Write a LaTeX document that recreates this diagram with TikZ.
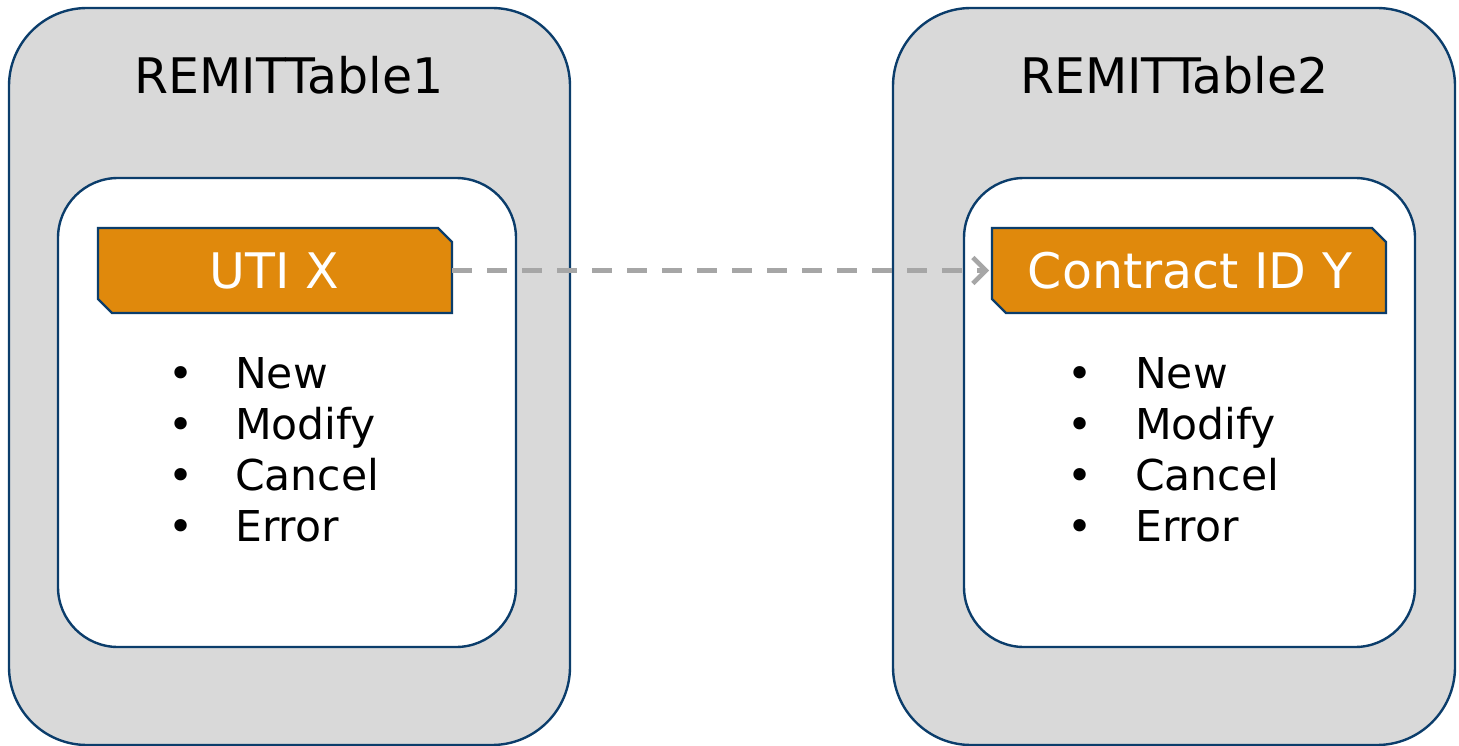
\documentclass[tikz,border=0pt]{standalone}
\usepackage{fontspec}
\setmainfont{DejaVu Sans}
\usetikzlibrary{arrows.meta}
\definecolor{bordblue}{HTML}{0B3D6B}
\definecolor{panelgray}{HTML}{D9D9D9}
\definecolor{orangefill}{HTML}{E0890C}
\definecolor{arrowgray}{HTML}{A6A6A6}
\tikzset{
  outerpanel/.style={draw=bordblue, line width=2.4pt, fill=panelgray, rounded corners=78pt},
  innerpanel/.style={draw=bordblue, line width=2.4pt, fill=white, rounded corners=60pt},
  chamfer/.style={draw=bordblue, line width=2.4pt, fill=orangefill},
  idtext/.style={font=\fontsize{49}{58}\selectfont, text=white, anchor=base},
  titletext/.style={font=\fontsize{49}{58}\selectfont, text=black, anchor=base},
  itemtext/.style={font=\fontsize{42.5}{51}\selectfont, text=black, anchor=base west, inner sep=0pt},
  holder/.style={inner sep=0pt, outer sep=0pt},
  linkarrow/.style={draw=arrowgray, line width=4.5pt, dash pattern=on 20pt off 15pt,
    -{Straight Barb[length=13pt, width=26pt, line width=4.5pt]}}
}
\begin{document}
\begin{tikzpicture}[x=1pt, y=-1pt]
\useasboundingbox (0,0) rectangle (1459,746);
% panels
\node[holder, minimum width=561pt, minimum height=737pt] (p1) at (289.5,376.5) {};
\node[holder, minimum width=562pt, minimum height=737pt] (p2) at (1174,376.5) {};
\draw[outerpanel] (p1.north west) rectangle (p1.south east);
\draw[outerpanel] (p2.north west) rectangle (p2.south east);
\node[holder, minimum width=458pt, minimum height=469pt] (i1) at (287,412.5) {};
\node[holder, minimum width=451pt, minimum height=469pt] (i2) at (1189.5,412.5) {};
\draw[innerpanel] (i1.north west) rectangle (i1.south east);
\draw[innerpanel] (i2.north west) rectangle (i2.south east);
% titles
\node[titletext] (t1) at (289,94) {REMITTable1};
\node[titletext] (t2) at (1174.5,94) {REMITTable2};
% orange boxes
\node[holder, minimum width=354pt, minimum height=85pt] (uti) at (275,270.5) {};
\node[holder, minimum width=394pt, minimum height=85pt] (cid) at (1189,270.5) {};
\foreach \b in {uti,cid}{
  \draw[chamfer] (\b.north west) -- ([xshift=-14pt]\b.north east) -- ([yshift=-14pt]\b.north east)
    -- (\b.south east) -- ([xshift=14pt]\b.south west) -- ([yshift=14pt]\b.south west) -- cycle;
}
\node[idtext] (utitext) at (274,288) {UTI X};
\node[idtext] (cidtext) at (1190,288) {Contract ID Y};
% bullet lists
\foreach \t [count=\k] in {New,Modify,Cancel,Error}{
  \node[itemtext] (la\k) at (168.5,{388+51*(\k-1)}) {\makebox[66.5pt][l]{•}\t};
  \node[itemtext] (lb\k) at (1067.5,{388+51*(\k-1)}) {\makebox[67.5pt][l]{•}\t};
}
% link
\draw[linkarrow] (uti.east) -- ([xshift=-3pt]cid.west);
\end{tikzpicture}
\end{document}
